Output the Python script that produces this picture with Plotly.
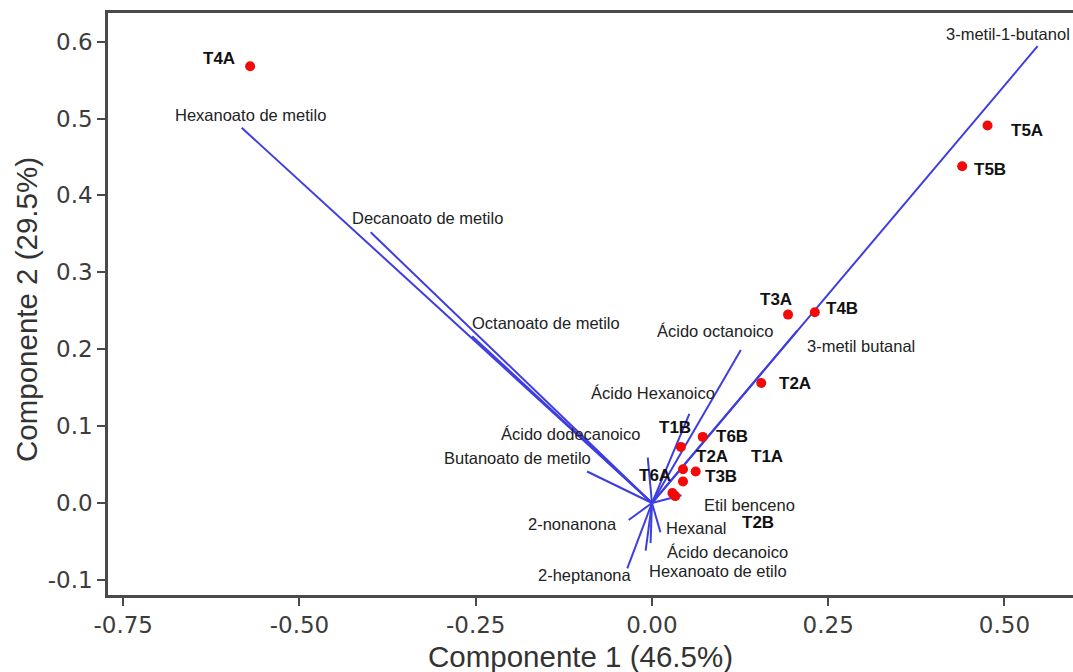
import plotly.graph_objects as go

# ---------------- data ----------------
sample_names = ["T4A", "T5A", "T5B", "T3A", "T4B", "T2A", "T6B", "T1B",
                "T2A", "T3B", "T1A", "T6A", "T2B"]
sample_pc1 = [-0.570, 0.476, 0.440, 0.193, 0.231, 0.155, 0.072, 0.041,
              0.044, 0.062, 0.044, 0.029, 0.033]
sample_pc2 = [0.568, 0.491, 0.438, 0.245, 0.248, 0.156, 0.086, 0.073,
              0.044, 0.041, 0.028, 0.013, 0.009]

var_names = ["Hexanoato de metilo", "Decanoato de metilo", "Octanoato de metilo",
             "Butanoato de metilo", "Ácido dodecanoico", "Ácido Hexanoico",
             "Ácido octanoico", "3-metil butanal", "3-metil-1-butanol",
             "Etil benceno", "Hexanal", "Ácido decanoico", "Hexanoato de etilo",
             "2-nonanona", "2-heptanona"]
var_pc1 = [-0.582, -0.399, -0.255, -0.092, -0.006, 0.053, 0.126, 0.206, 0.547,
           0.042, 0.012, -0.002, -0.009, -0.033, -0.035]
var_pc2 = [0.488, 0.352, 0.217, 0.041, 0.059, 0.116, 0.199, 0.224, 0.594,
           0.010, -0.038, -0.052, -0.062, -0.022, -0.085]

x_tickvals = [-0.75, -0.50, -0.25, 0.00, 0.25, 0.50]
x_ticktext = ["-0.75", "-0.50", "-0.25", "0.00", "0.25", "0.50"]
y_tickvals = [-0.1, 0.0, 0.1, 0.2, 0.3, 0.4, 0.5, 0.6]
y_ticktext = ["-0.1", "0.0", "0.1", "0.2", "0.3", "0.4", "0.5", "0.6"]

x_title = "Componente 1 (46.5%)"
y_title = "Componente 2 (29.5%)"

# ---------------- label styling (pixel offsets from the mark) ----------------
sample_label_offsets = [(-31, 8), (39, -5), (28, -3), (-12, 15), (27, 4), (34, 0),
                        (29, 0), (-6, 19), (29, 13), (25, -5), (84, 25), (-17, 18),
                        (83, -26)]
# (xshift, yshift, xanchor)
var_label_offsets = [(9, 13, "center"), (57, 14, "center"), (74, 13, "center"),
                     (-70, 13, "center"), (-77, 24, "center"), (-36, 21, "center"),
                     (-25, 19, "center"), (8, -15, "left"), (-94, 12, "left"),
                     (68, -10, "center"), (36, 4, "center"), (77, -9, "center"),
                     (72, -20, "center"), (-56, -4, "center"), (-43, -7, "center")]

LINE_BLUE = "rgb(62,62,224)"
AXIS_COL = "#4a4a4a"
SANS = "Liberation Sans, Arial, sans-serif"

fig = go.Figure()

# loading vectors from the origin
vx, vy = [], []
for a, b in zip(var_pc1, var_pc2):
    vx += [0, a, None]
    vy += [0, b, None]
fig.add_trace(go.Scatter(x=vx, y=vy, mode="lines",
                         line=dict(color=LINE_BLUE, width=2),
                         hoverinfo="skip", showlegend=False))

# sample scores
fig.add_trace(go.Scatter(x=sample_pc1, y=sample_pc2, mode="markers",
                         marker=dict(color="#f00a0a", size=10),
                         text=sample_names, showlegend=False))

annotations = []
for name, a, b, (dx, dy) in zip(sample_names, sample_pc1, sample_pc2, sample_label_offsets):
    annotations.append(dict(x=a, y=b, xref="x", yref="y", text="<b>%s</b>" % name,
                            showarrow=False, xshift=dx, yshift=dy,
                            font=dict(family=SANS, size=17, color="#111111")))
for name, a, b, (dx, dy, anc) in zip(var_names, var_pc1, var_pc2, var_label_offsets):
    annotations.append(dict(x=a, y=b, xref="x", yref="y", text=name, showarrow=False,
                            xanchor=anc, xshift=dx, yshift=dy,
                            font=dict(family=SANS, size=16.5, color="#222222")))

# axis titles
annotations.append(dict(x=0.4894, y=-0.1065, xref="paper", yref="paper", text=x_title,
                        showarrow=False, xanchor="center", yanchor="middle",
                        font=dict(family=SANS, size=29.5, color="#333333")))
annotations.append(dict(x=-0.0839, y=0.4897, xref="paper", yref="paper", text=y_title,
                        showarrow=False, xanchor="center", yanchor="middle", textangle=-90,
                        font=dict(family=SANS, size=29.5, color="#333333")))

tickfont = dict(family="DejaVu Sans", size=23, color="#3c3c3c")
fig.update_layout(
    width=1073, height=672,
    margin=dict(l=108, r=0, t=13, b=77),
    paper_bgcolor="white", plot_bgcolor="white",
    annotations=annotations,
    xaxis=dict(range=[-0.7716, 0.5972], tickvals=x_tickvals, ticktext=x_ticktext,
               showgrid=False, zeroline=False, showline=True, linecolor=AXIS_COL,
               linewidth=2.5, mirror=True, ticks="outside", ticklen=8, tickwidth=2,
               tickcolor=AXIS_COL, tickfont=tickfont),
    yaxis=dict(range=[-0.1196, 0.6372], tickvals=y_tickvals, ticktext=y_ticktext,
               showgrid=False, zeroline=False, showline=True, linecolor=AXIS_COL,
               linewidth=2.5, ticks="outside", ticklen=8, tickwidth=2,
               tickcolor=AXIS_COL, tickfont=tickfont),
)

fig.write_html("out.html")
